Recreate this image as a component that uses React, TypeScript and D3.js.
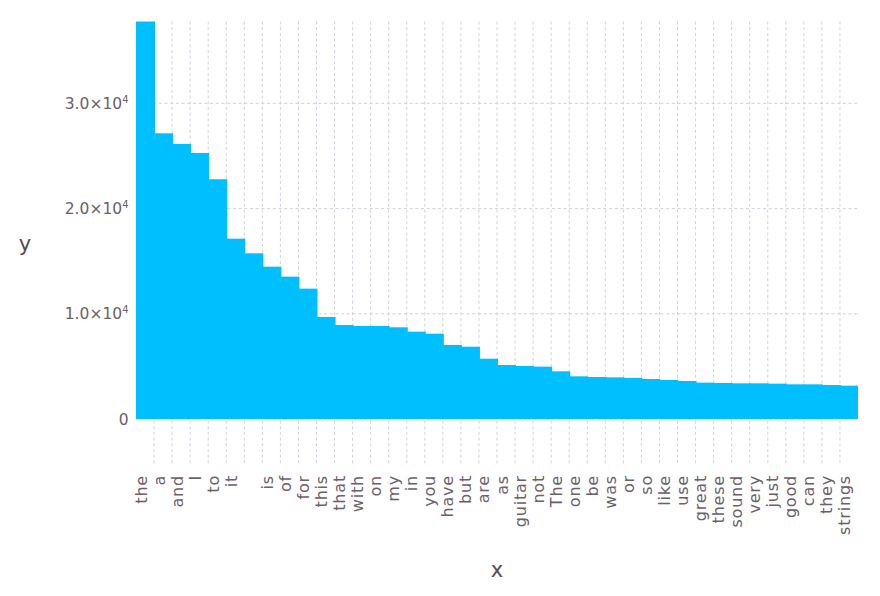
import React from "react";
import * as d3 from "d3";

const words: string[] = [
  "the", "a", "and", "I", "to", "it", "", "is", "of", "for",
  "this", "that", "with", "on", "my", "in", "you", "have", "but", "are",
  "as", "guitar", "not", "The", "one", "be", "was", "or", "so", "like",
  "use", "great", "these", "sound", "very", "just", "good", "can", "they", "strings",
];

const counts: number[] = [
  37900, 27160, 26140, 25290, 22790, 17140, 15750, 14480, 13530, 12390,
  9700, 8935, 8840, 8840, 8717, 8300, 8110, 7034, 6873, 5732,
  5133, 5038, 4975, 4531, 4056, 3992, 3960, 3910, 3802, 3707,
  3612, 3454, 3422, 3390, 3390, 3359, 3295, 3295, 3232, 3168,
];

const yTicks: number[] = [0, 10000, 20000, 30000];
const yTickMantissa: string[] = ["0", "1.0", "2.0", "3.0"];
const yTickExponent: string[] = ["", "4", "4", "4"];

const W = 880;
const H = 596;
const plotLeft = 136;
const plotRight = 858;
const plotTop = 21.5;
const plotBottom = 465;
const yMin = -4373;
const yMax = 37785;

const BAR = "#00BFFF";
const GRID = "#D0D0E0";
const MINOR = "#6C606B";
const MAJOR = "#564A55";
const FONT = "'DejaVu Sans', sans-serif";

export default function App() {
  const idx = words.map((_, i) => i);
  const x = d3.scaleBand<number>().domain(idx).range([plotLeft, plotRight]).padding(0);
  const y = d3.scaleLinear().domain([yMin, yMax]).range([plotBottom, plotTop]);
  const bw = x.bandwidth();

  return (
    <svg
      width={W}
      height={H}
      viewBox={`0 0 ${W} ${H}`}
      style={{ position: "absolute", left: 0, top: 0, background: "#fff" }}
    >
      <defs>
        <clipPath id="plotclip">
          <rect x={plotLeft} y={plotTop} width={plotRight - plotLeft} height={plotBottom - plotTop} />
        </clipPath>
      </defs>
      <rect x={0} y={0} width={W} height={H} fill="#fff" />
      {/* grid */}
      <g stroke={GRID} strokeWidth={1} strokeDasharray="3,2.7" fill="none">
        {yTicks.map((t) => (
          <line key={"h" + t} x1={plotLeft} x2={plotRight} y1={y(t)} y2={y(t)} />
        ))}
        {idx.slice(1).map((i) => (
          <line key={"v" + i} x1={x(i)!} x2={x(i)!} y1={plotTop} y2={plotBottom} />
        ))}
      </g>
      {/* bars */}
      <g clipPath="url(#plotclip)">
        {counts.map((c, i) => (
          <rect
            key={"b" + i}
            x={x(i)!}
            y={y(c)}
            width={i === counts.length - 1 ? bw : bw + 1}
            height={y(0) - y(c)}
            fill={BAR}
          />
        ))}
      </g>
      {/* y tick labels */}
      <g fontFamily={FONT} fontSize={15.5} fill={MINOR} textAnchor="end">
        {yTicks.map((t, i) => (
          <text key={"yt" + t} x={128.5} y={y(t) + 5.7}>
            {yTickExponent[i] ? (
              <>
                {yTickMantissa[i] + "×10"}
                <tspan fontSize={10} dy={-6.5}>{yTickExponent[i]}</tspan>
              </>
            ) : (
              yTickMantissa[i]
            )}
          </text>
        ))}
      </g>
      {/* x tick labels */}
      <g fontFamily={FONT} fontSize={16} fill={MINOR} textAnchor="end" letterSpacing={0.8}>
        {words.map((w, i) => {
          const cx = x(i)! + bw / 2 + 1.5;
          const cy = 475;
          return (
            <text key={"xt" + i} x={cx} y={cy} transform={`rotate(-90, ${cx}, ${cy})`}>
              {w}
            </text>
          );
        })}
      </g>
      {/* axis labels */}
      <text x={(plotLeft + plotRight) / 2} y={577} textAnchor="middle" fontFamily={FONT} fontSize={21} fill={MAJOR}>
        x
      </text>
      <text x={25} y={251} textAnchor="middle" fontFamily={FONT} fontSize={21} fill={MAJOR}>
        y
      </text>
    </svg>
  );
}
